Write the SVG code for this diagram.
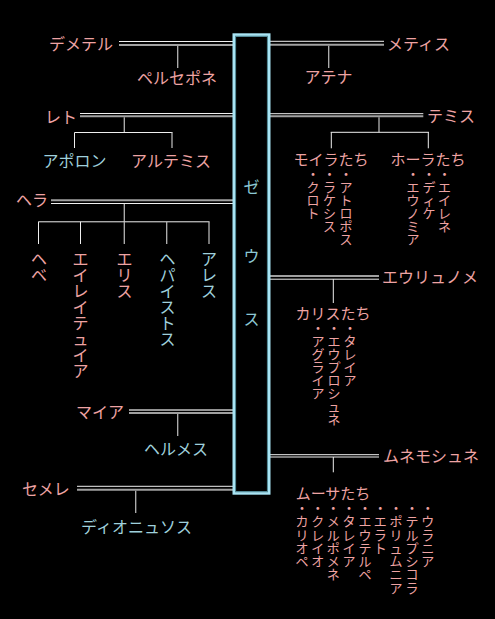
<svg xmlns="http://www.w3.org/2000/svg" width="495" height="619" viewBox="0 0 495 619">
<style>
text{font-family:"Noto Sans CJK JP","Noto Sans CJK SC",sans-serif;}
.f{fill:#eea3a3;font-size:16px;}
.m{fill:#9fd0dc;font-size:16px;}
.gl{fill:#eea3a3;font-size:15px;text-anchor:middle;}
.sub{fill:#eea3a3;font-size:13px;}
.c{text-anchor:middle;}
.v{writing-mode:vertical-rl;text-orientation:upright;font-feature-settings:"vert" 0,"vrt2" 0;}
.w{stroke:#efefef;stroke-width:1;}
.g{stroke:#a0a0a0;stroke-width:2;}
.s{stroke:#b4b4b4;stroke-width:1.3;}
</style>
<rect width="495" height="619" fill="#000"/>

<g id="connectors" fill="none">
  <line class="w" x1="119" y1="41.5" x2="233" y2="41.5"/>
  <line class="g" x1="119" y1="45" x2="233" y2="45"/>
  <line class="s" x1="177.7" y1="46" x2="177.7" y2="68"/>
  <line class="w" x1="80" y1="113.5" x2="233" y2="113.5"/>
  <line class="g" x1="80" y1="116.3" x2="233" y2="116.3"/>
  <line class="s" x1="124.3" y1="117.3" x2="124.3" y2="132.5"/>
  <line class="w" x1="74.5" y1="132.5" x2="172.5" y2="132.5"/>
  <line class="w" x1="74.5" y1="132.5" x2="74.5" y2="148"/>
  <line class="s" x1="172" y1="132.5" x2="172" y2="148"/>
  <line class="g" x1="51" y1="200.2" x2="233" y2="200.2"/>
  <line class="w" x1="51" y1="203.5" x2="233" y2="203.5"/>
  <line class="s" x1="124.3" y1="204" x2="124.3" y2="221.8"/>
  <line class="w" x1="38.3" y1="221.8" x2="209.5" y2="221.8"/>
  <line class="w" x1="38.5" y1="221.8" x2="38.5" y2="244"/>
  <line class="w" x1="80.5" y1="221.8" x2="80.5" y2="244"/>
  <line class="s" x1="124.3" y1="221.8" x2="124.3" y2="244"/>
  <line class="s" x1="166.7" y1="221.8" x2="166.7" y2="244"/>
  <line class="s" x1="209" y1="221.8" x2="209" y2="244"/>
  <line stroke="#c4c4c4" stroke-width="1.5" x1="129" y1="410" x2="233" y2="410"/>
  <line class="g" x1="129" y1="413" x2="233" y2="413"/>
  <line class="s" x1="177.7" y1="414" x2="177.7" y2="436"/>
  <line class="w" x1="77" y1="486.3" x2="233" y2="486.3"/>
  <line class="g" x1="77" y1="489.7" x2="233" y2="489.7"/>
  <line class="s" x1="135.7" y1="490.7" x2="135.7" y2="513"/>
  <line class="w" x1="270" y1="41.3" x2="384" y2="41.3"/>
  <line class="g" x1="270" y1="44.7" x2="384" y2="44.7"/>
  <line class="s" x1="328.7" y1="45.7" x2="328.7" y2="68"/>
  <line class="w" x1="270" y1="113.7" x2="423.3" y2="113.7"/>
  <line class="g" x1="270" y1="116.3" x2="423.3" y2="116.3"/>
  <line class="s" x1="379" y1="117.3" x2="379" y2="132.3"/>
  <line class="w" x1="330.7" y1="132.3" x2="429" y2="132.3"/>
  <line class="w" x1="331.3" y1="132.3" x2="331.3" y2="148.3"/>
  <line class="w" x1="428.3" y1="132.3" x2="428.3" y2="148.3"/>
  <line class="g" x1="270" y1="276" x2="379" y2="276"/>
  <line class="w" x1="270" y1="279.2" x2="379" y2="279.2"/>
  <line class="w" x1="333.3" y1="279.2" x2="333.3" y2="303"/>
  <line class="w" x1="270" y1="454.7" x2="379" y2="454.7"/>
  <line class="w" x1="270" y1="457" x2="379" y2="457"/>
  <line class="w" x1="333.3" y1="457" x2="333.3" y2="472.3"/>
</g>

<g id="zeus">
  <rect x="233.8" y="34.6" width="35.4" height="458.8" fill="none" stroke="#a8e4f4" stroke-width="2.6"/>
  <rect x="235.6" y="36.4" width="31.8" height="455.2" fill="none" stroke="#5d98a6" stroke-width="1"/>
  <text class="c" fill="#8cc8d4" font-size="16" x="251.5" y="193">ゼ</text>
  <text class="c" fill="#8cc8d4" font-size="16" x="251.5" y="262">ウ</text>
  <text class="c" fill="#8cc8d4" font-size="16" x="251.5" y="325">ス</text>
</g>

<g id="demeter"><text class="f" x="49" y="50">デメテル</text></g>
<g id="persephone"><text class="f c" x="177" y="84">ペルセポネ</text></g>
<g id="leto"><text class="f" x="45" y="123">レト</text></g>
<g id="apollon"><text class="m c" x="74.5" y="167">アポロン</text></g>
<g id="artemis"><text class="f c" x="171" y="167">アルテミス</text></g>
<g id="hera"><text class="f" x="16" y="206">ヘラ</text></g>

<g id="hebe"><text class="f v" x="39" y="251">ヘベ</text></g>
<g id="eileithyia"><text class="f v" x="80.5" y="251">エイレイテュイア</text></g>
<g id="eris"><text class="f v" x="124.5" y="251">エリス</text></g>
<g id="hephaistos"><text class="m v" x="167.5" y="251">ヘパイストス</text></g>
<g id="ares"><text class="m v" x="209" y="251">アレス</text></g>

<g id="maia"><text class="f" x="76" y="418">マイア</text></g>
<g id="hermes"><text class="m c" x="176" y="455">ヘルメス</text></g>
<g id="semele"><text class="f" x="22" y="495">セメレ</text></g>
<g id="dionysos"><text class="m c" x="136.5" y="533">ディオニュソス</text></g>

<g id="metis"><text class="f" x="387" y="50">メティス</text></g>
<g id="athena"><text class="f c" x="328.5" y="83">アテナ</text></g>
<g id="themis"><text class="f" x="427" y="122">テミス</text></g>

<g id="moirai">
  <text class="gl" x="331" y="165">モイラたち</text>
  <text class="sub v" x="313" y="168">・クロト</text>
  <text class="sub v" x="329.5" y="168">・ラケシス</text>
  <text class="sub v" x="346" y="168">・アトロポス</text>
</g>

<g id="horai">
  <text class="gl" x="428" y="165">ホーラたち</text>
  <text class="sub v" x="413" y="168">・エウノミア</text>
  <text class="sub v" x="429" y="168">・ディケ</text>
  <text class="sub v" x="444.5" y="168">・エイレネ</text>
</g>

<g id="eurynome"><text class="f" x="382" y="283">エウリュノメ</text></g>

<g id="charites">
  <text class="gl" x="333" y="319">カリスたち</text>
  <text class="sub v" x="318" y="322">・アグライア</text>
  <text class="sub v" x="334" y="322">・エウプロシュネ</text>
  <text class="sub v" x="350" y="322">・タレイア</text>
</g>

<g id="mnemosyne"><text class="f" x="383" y="462">ムネモシュネ</text></g>

<g id="mousai">
  <text class="gl" x="333" y="499">ムーサたち</text>
  <text class="sub v" letter-spacing="0.3" x="302" y="501.5">・カリオペ</text>
  <text class="sub v" letter-spacing="0.3" x="317.7" y="501.5">・クレイオ</text>
  <text class="sub v" letter-spacing="0.3" x="333.3" y="501.5">・メルポメネ</text>
  <text class="sub v" letter-spacing="0.3" x="349" y="501.5">・タレイア</text>
  <text class="sub v" letter-spacing="0.3" x="365" y="501.5">・エウテルペ</text>
  <text class="sub v" letter-spacing="0.3" x="380.3" y="501.5">・エラト</text>
  <text class="sub v" letter-spacing="0.3" x="396" y="501.5">・ポリュムニア</text>
  <text class="sub v" letter-spacing="0.3" x="412" y="501.5">・テルプシコラ</text>
  <text class="sub v" letter-spacing="0.3" x="427.7" y="501.5">・ウラニア</text>
</g>
</svg>
